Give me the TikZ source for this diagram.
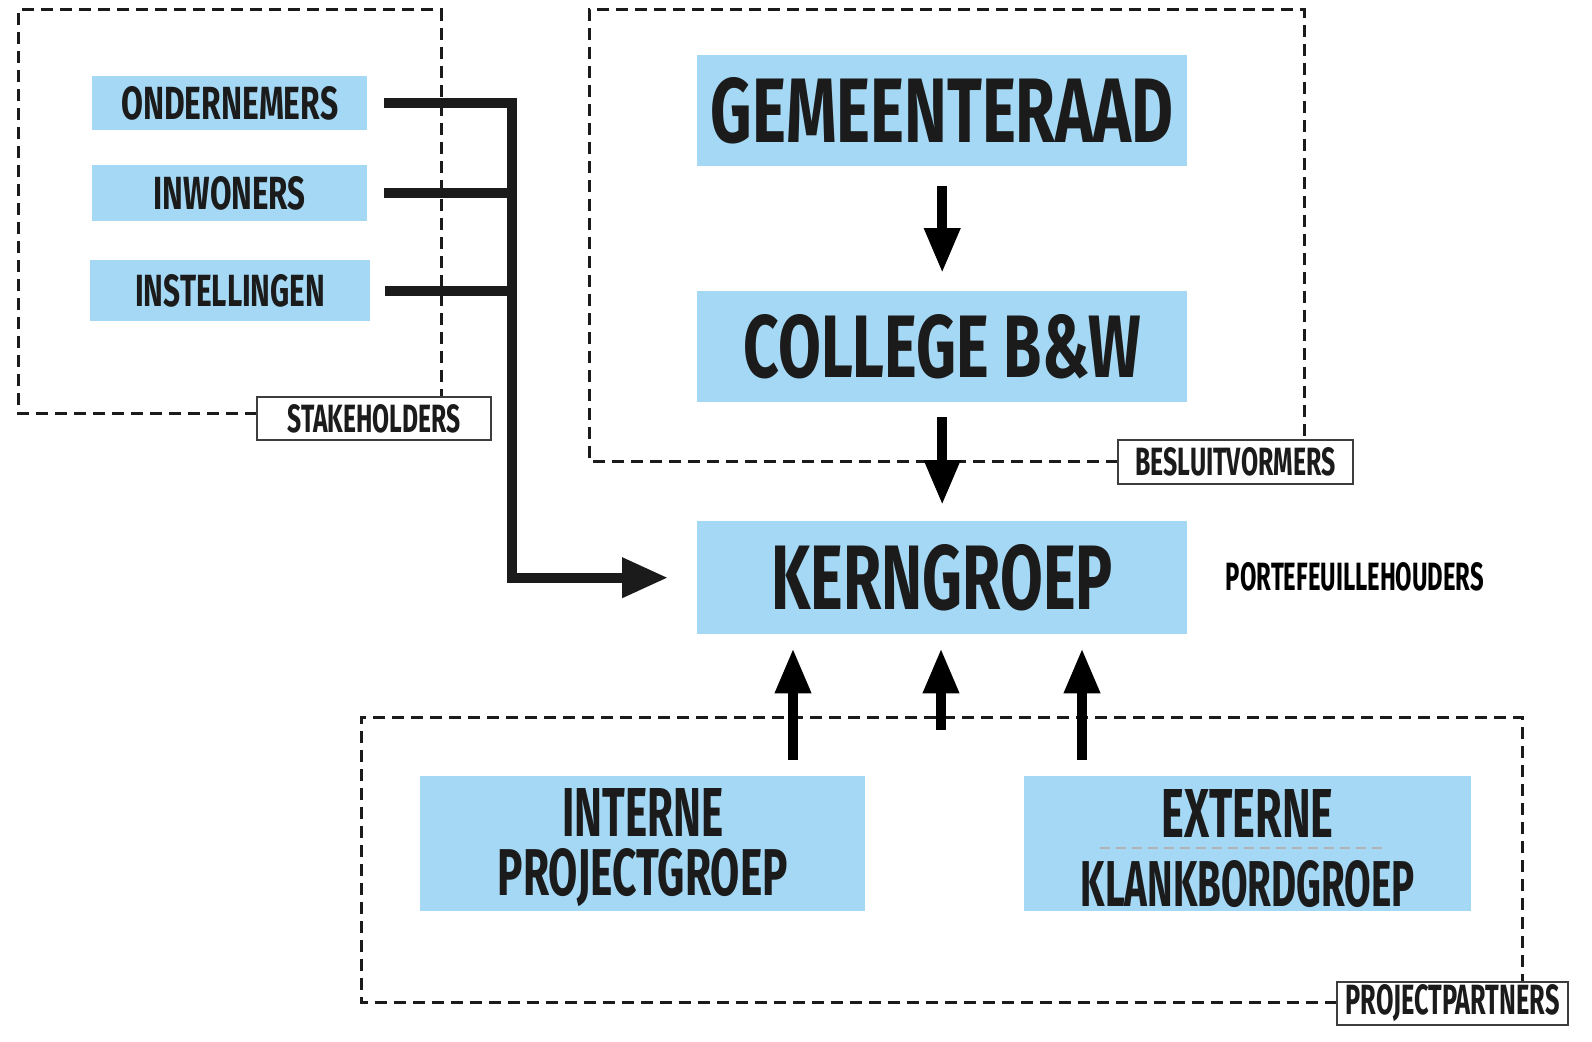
\documentclass[tikz,border=0pt]{standalone}
\usepackage{fontspec}
\usepackage{graphicx}
\newfontfamily\cond{Fira Sans}
\usetikzlibrary{arrows.meta}
\definecolor{boxblue}{HTML}{A4D8F4}
\definecolor{ink}{HTML}{1B1B1B}
\newcommand{\fitt}[3]{\resizebox{#1pt}{#2pt}{\cond\bfseries #3}}
\begin{document}
\begin{tikzpicture}[x=1pt,y=-1pt,
  bbox/.style={fill=boxblue,draw=none,inner sep=0pt,anchor=north west,text=ink},
  lbox/.style={fill=white,draw=ink!85,line width=2pt,inner sep=0pt,text=ink},
  frame/.style={draw=ink,line width=3pt,dash pattern=on 12pt off 7pt},
  conn/.style={draw=ink,line width=10pt,line join=miter},
  arr/.style={draw=black,line width=10pt,-{Triangle[length=45pt,width=34pt]}},
  larr/.style={draw=ink,line width=10pt,line join=miter,-{Triangle[length=46pt,width=38pt]}}]
\useasboundingbox (0,0) rectangle (1592,1041);
\fill[white] (0,0) rectangle (1592,1041);

% dashed frames
\draw[frame] (257,413) -- (18,413) -- (18,10) -- (441,10) -- (441,397);
\draw[frame] (1118,461) -- (589,461) -- (589,10) -- (1304,10) -- (1304,440);
\draw[frame] (1337,1002) -- (361,1002) -- (361,717) -- (1522,717) -- (1522,982);

% stakeholders
\node[bbox,minimum width=275,minimum height=54] (ond) at (92,76) {\fitt{217}{33}{ONDERNEMERS}};
\node[bbox,minimum width=275,minimum height=56] (inw) at (92,165) {\fitt{152}{33}{INWONERS}};
\node[bbox,minimum width=280,minimum height=61] (ins) at (90,260) {\fitt{190}{32}{INSTELLINGEN}};

% central column
\node[bbox,minimum width=490,minimum height=111] (gem) at (697,55) {\fitt{463}{65}{GEMEENTERAAD}};
\node[bbox,minimum width=490,minimum height=111] (col) at (697,291) {\fitt{397}{63}{COLLEGE B\&W}};
\node[bbox,minimum width=490,minimum height=113] (ker) at (697,521) {\fitt{341}{65}{KERNGROEP}};
\node[inner sep=0pt,text=black] (pfh) at (1355,577) {\fitt{258}{28}{PORTEFEUILLEHOUDERS}};

% project partners
\node[bbox,minimum width=445,minimum height=135] (int) at (420,776)
  {\begin{tabular}{@{}c@{}}\rule{0pt}{56pt}\fitt{161}{48}{INTERNE}\\[8pt]\fitt{290}{47}{PROJECTGROEP}\end{tabular}};
\node[bbox,minimum width=447,minimum height=135] (ext) at (1024,776)
  {\begin{tabular}{@{}c@{}}\rule{0pt}{60pt}\fitt{172}{48}{EXTERNE}\\[20pt]\fitt{334}{46}{KLANKBORDGROEP}\end{tabular}};
\draw[black!30,line width=1.5pt,dash pattern=on 10pt off 6pt] (1100,848) -- (1385,848);

% labels
\node[lbox,minimum width=234,minimum height=43] (stk) at (374,418.5) {\fitt{173}{28}{STAKEHOLDERS}};
\node[lbox,minimum width=235,minimum height=44] (bsl) at (1235.5,462) {\fitt{200}{28}{BESLUITVORMERS}};
\node[lbox,minimum width=231,minimum height=43] (prj) at (1452.5,1003.5) {\fitt{214}{30}{PROJECTPARTNERS}};

% connectors
\coordinate (vx) at (512,0);
\draw[larr,shorten <=17pt,shorten >=29pt] (ond.east) -- (ond.east -| vx) |- (ker.west);
\draw[conn,shorten <=17pt] (inw.east) -- (inw.east -| vx);
\draw[conn,shorten <=15pt] (ins.east) -- ([xshift=-4pt]ins.east -| vx);

\draw[arr,shorten <=20pt,shorten >=18pt] (gem.south) -- (col.north);
\draw[arr,shorten <=15pt,shorten >=16pt] (col.south) -- (ker.north);

\coordinate (a1) at (793,0);
\coordinate (a3) at (1082,0);
\coordinate (m0) at (941,730);
\draw[arr,shorten <=16pt,shorten >=14pt] (int.north -| a1) -- (ker.south -| a1);
\draw[arr,shorten >=14pt] (m0) -- (ker.south -| m0);
\draw[arr,shorten <=16pt,shorten >=14pt] (ext.north -| a3) -- (ker.south -| a3);
\end{tikzpicture}
\end{document}
